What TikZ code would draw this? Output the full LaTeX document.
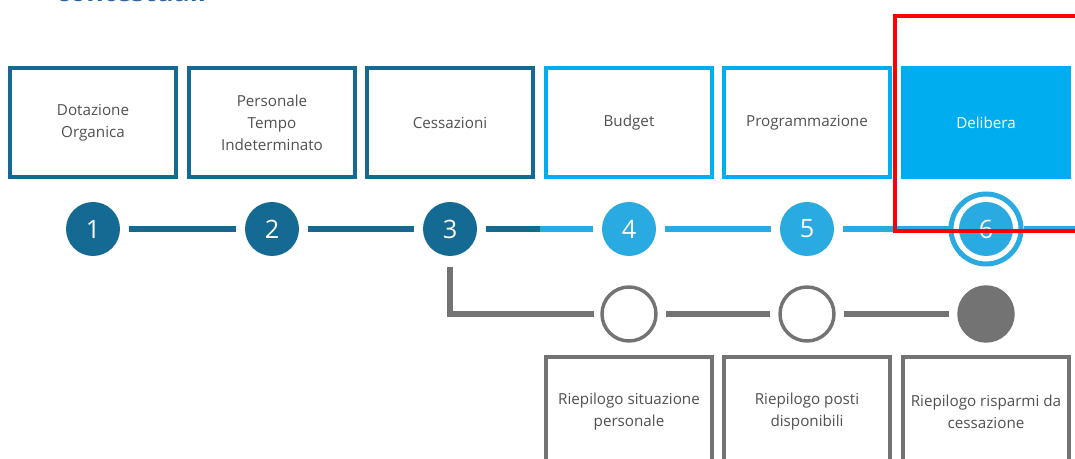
\documentclass[tikz,border=0pt]{standalone}
\usepackage{fontspec}
\setmainfont{Open Sans}
\usetikzlibrary{positioning}

\definecolor{stepdark}{RGB}{21,106,147}
\definecolor{steplight}{RGB}{0,174,239}
\definecolor{dotlight}{RGB}{41,170,225}
\definecolor{sidegray}{RGB}{115,115,115}
\definecolor{textgray}{RGB}{80,80,80}
\definecolor{titleblue}{RGB}{46,100,167}

\begin{document}
\begin{tikzpicture}[
        x=0.75pt, y=-0.75pt,
        phase/.style={
          draw=stepdark, line width=3pt, minimum width=124.5pt, minimum height=81.75pt,
          align=center, text=textgray, font=\fontsize{11.4}{16.5}\selectfont
        },
        next/.style={phase, draw=steplight},
        current/.style={phase, draw=steplight, fill=steplight, text=white},
        report/.style={phase, draw=sidegray},
        num/.style={
          circle, fill=stepdark, minimum size=40.5pt, inner sep=0pt,
          text=white, font=\fontsize{19}{19}\selectfont
        },
        numnext/.style={num, fill=dotlight},
        dot/.style={circle, draw=sidegray, line width=2.6pt, minimum size=40.5pt, inner sep=0pt},
        link/.style={line width=4.5pt, shorten <=6.5pt, shorten >=6.5pt},
      ]
        \clip (0,0) rectangle (1075,459);

        % heading, cut by the top edge
        \node [anchor=base west, inner sep=0pt, text=titleblue, font=\fontsize{20}{20}\selectfont\bfseries] (title) at (56,1.5) {contestuali};

        % Phases
        \node [phase] (phase1) at (93,123) {Dotazione\\Organica};
        \node [phase] (phase2) at (272,123) {Personale\\Tempo\\Indeterminato};
        \node [phase] (phase3) at (450,123) {Cessazioni};
        \node [next] (phase4) at (629,123) {Budget};
        \node [next] (phase5) at (807,123) {Programmazione};
        \node [current] (phase6) at (986,123) {Delibera};

        % Steps
        \coordinate (split) at (540,229);
        \coordinate (edge) at (1080,229);
        \node [circle, draw=dotlight, fill=white, line width=3.75pt, minimum size=52.5pt] (ring6) at (986,229) {};
        \node [num] (step1) at (93,229) {1};
        \node [num] (step2) at (272,229) {2};
        \node [num] (step3) at (450,229) {3};
        \node [numnext] (step4) at (629,229) {4};
        \node [numnext] (step5) at (807,229) {5};
        \node [numnext] (step6) at (986,229) {6};

        \draw [link, stepdark] (step1) -- (step2);
        \draw [link, stepdark] (step2) -- (step3);
        \draw [link, stepdark, shorten >=0pt] (step3) -- (split);
        \draw [link, dotlight, shorten <=0pt] (split) -- (step4);
        \draw [link, dotlight] (step4) -- (step5);
        \draw [link, dotlight, shorten >=0pt] (step5) -- (ring6);
        \draw [link, dotlight, shorten <=0pt, shorten >=0pt] (ring6) -- (edge);

        % Reports
        \node [dot] (dot1) at (629,314) {};
        \node [dot] (dot2) at (807,314) {};
        \node [dot, fill=sidegray] (dot3) at (986,314) {};
        \draw [link, sidegray, shorten <=8pt, shorten >=5pt] (step3) |- (dot1);
        \draw [link, sidegray] (dot1) -- (dot2);
        \draw [link, sidegray] (dot2) -- (dot3);

        \node [report] (report1) at (629,411.5) {Riepilogo situazione\\personale};
        \node [report] (report2) at (807,411.5) {Riepilogo posti\\disponibili};
        \node [report] (report3) at (986,411.5) {Riepilogo risparmi da\\cessazione};

        % highlight
        \draw [red, line width=3pt] (895,16) rectangle (1090,231.5);
      \end{tikzpicture}
\end{document}
